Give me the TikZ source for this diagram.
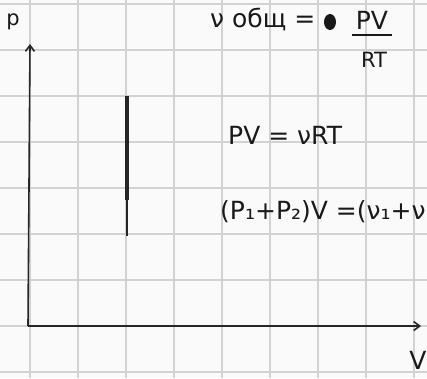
\documentclass[tikz,border=0pt]{standalone}
\usepackage{fontspec}
\setmainfont{DejaVu Sans}
\usetikzlibrary{arrows.meta}
\begin{document}
\begin{tikzpicture}[x=1pt,y=-1pt,
  gridline/.style={draw=gray!35, line width=1.4pt},
  axis/.style={draw=black!85, line width=1.6pt, -{Straight Barb[length=6pt,width=9pt]}},
  hand/.style={font=\fontsize{25}{27}\selectfont, inner sep=0pt, text=black!90},
  small/.style={font=\fontsize{21}{23}\selectfont, inner sep=0pt, text=black!90}]
\fill[gray!4] (0,0) rectangle (427,378);
\useasboundingbox (0,0) rectangle (427,378);
\foreach \x in {30,78,...,420} \draw[gridline] (\x,0) -- (\x,378);
\foreach \y in {4,50,...,378} \draw[gridline] (0,\y) -- (427,\y);
% axes
\coordinate (O) at (28,326);
\coordinate (ytip) at (30,44);
\coordinate (xtip) at (421,326);
\draw[axis] (O) -- (ytip);
\draw[axis] (O) -- (xtip);
\node[small] (plab) at (13,22) {p};
\node[hand] (vlab) at (418,360) {V};
% bar
\coordinate (b1) at (127,96);
\coordinate (b2) at (127,200);
\coordinate (b3) at (127,236);
\draw[line width=3.5pt, black!85] (b1) -- (b2);
\draw[line width=1.6pt, black!85] (b2) -- (b3);
% formula 1
\node[hand, anchor=west] (nu) at (210,20) {ν общ =};
\fill[black!90] (330,22) ellipse (6pt and 8pt);
\node[hand] (pv) at (372,20) {PV};
\coordinate (barl) at (352,35);
\coordinate (barr) at (392,35);
\draw[line width=1.5pt, black!90] (barl) -- (barr);
\node[small] (rt) at (374,60) {RT};
% formula 2
\node[hand, anchor=west] (eq2) at (228,135) {PV = νRT};
% formula 3
\node[hand, anchor=west] (eq3) at (220,212) {(P₁+P₂)V =(ν₁+ν};
\end{tikzpicture}
\end{document}
